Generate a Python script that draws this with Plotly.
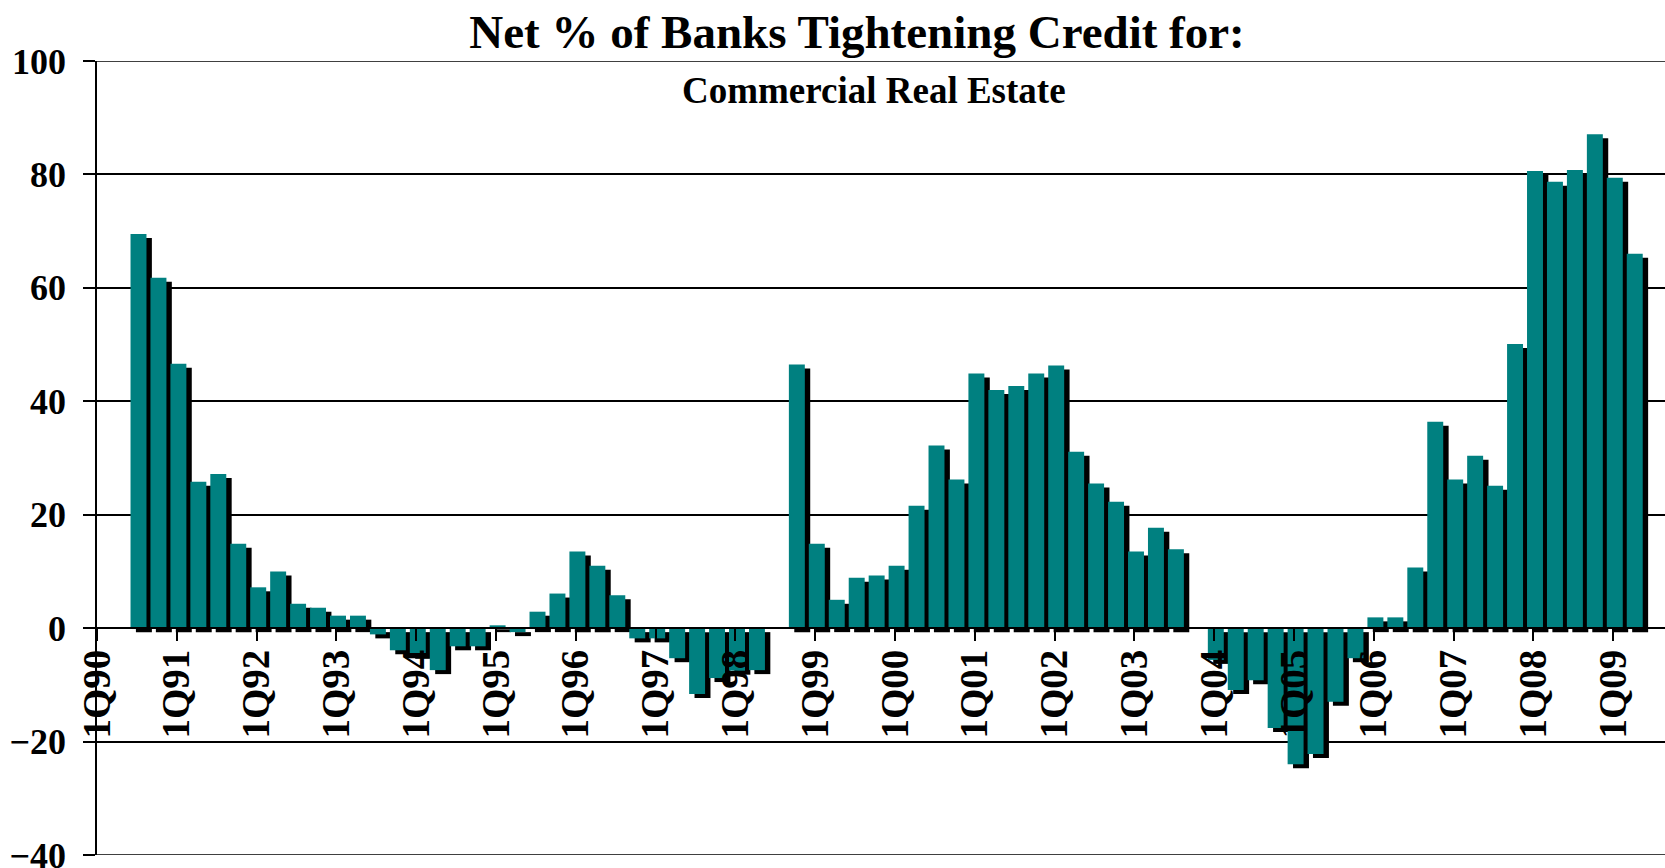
import plotly.graph_objects as go

# ---- data -------------------------------------------------------------
years = list(range(1990, 2010))
quarters = [f"{q}Q{str(y)[2:]}" for y in years for q in range(1, 5)][:78]  # 1Q90 .. 2Q09

net_tightening = [
    None, None, 69.5, 61.8,      # 1990
    46.6, 25.8, 27.2, 14.9,      # 1991
    7.2, 10.0, 4.3, 3.6,         # 1992
    2.2, 2.2, -1.1, -3.9,        # 1993
    -4.7, -7.4, -3.2, -3.2,      # 1994
    0.5, -0.7, 2.9, 6.1,         # 1995
    13.5, 11.0, 5.8, -1.8,       # 1996
    -1.8, -5.3, -11.6, -8.8,     # 1997
    -7.5, -7.4, None, 46.5,      # 1998
    14.9, 5.0, 8.9, 9.3,         # 1999
    11.0, 21.6, 32.2, 26.2,      # 2000
    44.9, 42.0, 42.7, 44.9,      # 2001
    46.3, 31.1, 25.5, 22.3,      # 2002
    13.5, 17.7, 13.9, None,      # 2003
    -5.6, -10.9, -9.2, -17.6,    # 2004
    -24.0, -22.2, -13.0, -5.3,   # 2005
    1.9, 1.9, 10.7, 36.4,        # 2006
    26.2, 30.4, 25.1, 50.1,      # 2007
    80.6, 78.7, 80.8, 87.1,      # 2008
    79.4, 66.0,                  # 2009
]

year_ticks = [q for q in quarters if q.startswith("1Q")]
y_ticks = [-40, -20, 0, 20, 40, 60, 80, 100]

title_text = "Net % of Banks Tightening Credit for:"
subtitle_text = "Commercial Real Estate"

# ---- style / layout ---------------------------------------------------
W, H = 1665, 868
M_L, M_R, M_T, M_B = 97, 0, 61, 13
QUARTER_PX = 19.95
plot_w = W - M_L - M_R
plot_h = H - M_T - M_B
x_max = plot_w / QUARTER_PX
Y_MIN, Y_MAX = -40, 100
unit_px = plot_h / (Y_MAX - Y_MIN)
shadow_dy = 4 / unit_px          # 4 px downward
shadow_dx = 5.4 / QUARTER_PX     # ~5 px to the right

FONT = "Liberation Serif"
TEAL = "#008080"
GRID_W = 1.5

fig = go.Figure()
# drop shadow
fig.add_trace(go.Bar(
    x=quarters, y=net_tightening, base=-shadow_dy,
    offset=-0.32 + shadow_dx, width=0.8,
    marker=dict(color="black", line=dict(width=0)),
    hoverinfo="skip", showlegend=False,
))
# teal bars
fig.add_trace(go.Bar(
    x=quarters, y=net_tightening,
    offset=-0.32, width=0.8,
    marker=dict(color=TEAL, line=dict(width=0)),
    showlegend=False, name="Commercial Real Estate",
))

zero_pos = (0 - Y_MIN) / (Y_MAX - Y_MIN)

# grid lines at the range ends (plotly omits them at the plot edges)
edge_lines = [
    dict(type="line", xref="paper", x0=0, x1=1, yref="y", y0=v, y1=v,
         line=dict(color="black", width=GRID_W), layer="below")
    for v in (Y_MIN, Y_MAX)
]

fig.update_layout(
    width=W, height=H,
    margin=dict(l=M_L, r=M_R, t=M_T, b=M_B, pad=0, autoexpand=False),
    paper_bgcolor="white", plot_bgcolor="white",
    barmode="overlay",
    font=dict(family=FONT, color="black"),
    title=dict(
        text=title_text, x=857 / W, xanchor="center", xref="container",
        y=1 - 32 / H, yanchor="middle", yref="container",
        font=dict(family=FONT, size=47, weight="bold", color="black"),
        automargin=False,
    ),
    xaxis=dict(
        type="category", categoryorder="array", categoryarray=quarters,
        range=[0, x_max], automargin=False,
        anchor="free", position=zero_pos,
        tickmode="array", tickvals=year_ticks, ticktext=year_ticks,
        tickangle=-90,
        ticks="outside", ticklen=12, tickwidth=1.5, tickcolor="black",
        ticklabelstandoff=-7,
        tickfont=dict(family=FONT, size=39, weight="bold", color="black"),
        showline=True, linecolor="black", linewidth=2,
        showgrid=False, zeroline=False,
    ),
    yaxis=dict(
        range=[Y_MIN, Y_MAX], automargin=False,
        tickmode="array", tickvals=y_ticks,
        ticks="outside", ticklen=12, tickwidth=1.5, tickcolor="black",
        ticklabelstandoff=10, ticklabeloverflow="allow",
        tickfont=dict(family=FONT, size=36, weight="bold", color="black"),
        showline=True, linecolor="black", linewidth=1.5,
        showgrid=True, gridcolor="black", gridwidth=GRID_W,
        zeroline=False,
    ),
    shapes=edge_lines,
    annotations=[dict(
        text=subtitle_text, xref="paper", yref="paper",
        x=(823 * W / 1568 - M_L) / plot_w, y=1 - (90 - M_T) / plot_h,
        xanchor="center", yanchor="middle", showarrow=False,
        font=dict(family=FONT, size=37, weight="bold", color="black"),
    )],
)

fig.write_html(
    "out.html",
    config={"displayModeBar": False},
    post_script="document.body.style.margin='0';document.body.style.overflow='hidden';",
)
